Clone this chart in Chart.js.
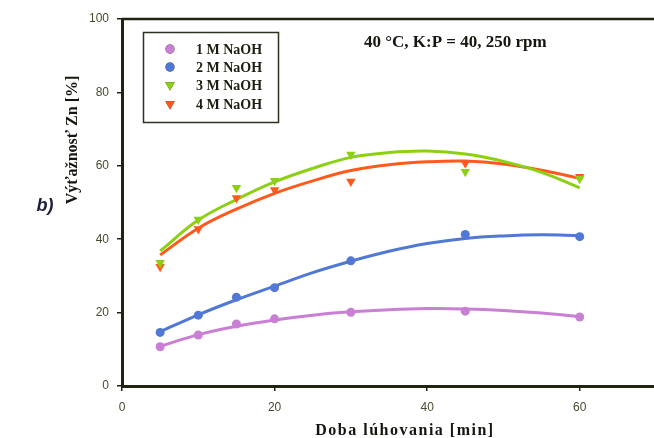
<!DOCTYPE html>
<html>
<head>
<meta charset="utf-8">
<script src="https://cdn.jsdelivr.net/npm/chart.js@4"></script>
<style>
  html, body { margin: 0; padding: 0; background: #fff; overflow: hidden; }
  #wrap { width: 654px; height: 438px; overflow: hidden; }
</style>
</head>
<body>
<div id="wrap"><canvas id="chart" width="662" height="438"></canvas></div>
<script>
// namerané body
const times = [5, 10, 15, 20, 30, 45, 60];
const naoh1 = [10.7, 13.9, 16.9, 18.3, 20.1, 20.4, 18.8];
const naoh2 = [14.6, 19.3, 24.2, 26.8, 34.1, 41.3, 40.7];
const naoh3 = [33.6, 45.4, 54.0, 55.9, 63.1, 58.4, 56.5];
const naoh4 = [32.5, 42.8, 51.2, 53.4, 55.7, 60.7, 57.0];

// trendové krivky odčítané z obrázku
const curveTimes = [5, 10, 15, 20, 25, 30, 35, 40, 45, 50, 55, 60];
const curve1 = [10.8, 14.0, 16.3, 18.0, 19.3, 20.2, 20.8, 21.1, 21.0, 20.6, 19.9, 18.9];
const curve2 = [14.8, 19.4, 23.5, 27.2, 30.9, 34.0, 36.7, 38.8, 40.2, 40.9, 41.2, 41.0];
const curve3 = [36.8, 45.2, 50.8, 55.6, 59.3, 62.3, 63.6, 64.0, 63.2, 61.2, 58.2, 54.0];
const curve4 = [35.7, 43.0, 48.2, 52.5, 55.9, 58.7, 60.3, 61.1, 61.3, 60.5, 58.8, 56.6];

const labels = ['1 M NaOH', '2 M NaOH', '3 M NaOH', '4 M NaOH'];
const colors = ['#c97fd4', '#5078d4', '#8cd014', '#ff5a1e'];
const styles = ['circle', 'circle', 'triangle', 'triangle'];

const axisColor = '#1e2410';
const serif = '"Liberation Serif", "Times New Roman", serif';
const sans = '"Liberation Sans", Arial, sans-serif';

const toXY = (xs, ys) => xs.map((x, i) => ({ x, y: ys[i] }));

const pointSets = [naoh1, naoh2, naoh3, naoh4].map((vals, i) => ({
  label: labels[i],
  data: toXY(times, vals),
  showLine: false,
  pointStyle: styles[i],
  rotation: styles[i] === 'triangle' ? 180 : 0,
  pointRadius: styles[i] === 'triangle' ? 5.5 : 4.5,
  pointBackgroundColor: colors[i],
  pointBorderColor: colors[i],
  pointBorderWidth: 0,
  order: 1
}));

const curveSets = [curve1, curve2, curve3, curve4].map((vals, i) => ({
  label: labels[i] + ' fit',
  data: toXY(curveTimes, vals),
  showLine: true,
  borderColor: colors[i],
  borderWidth: 3,
  pointRadius: 0,
  tension: 0.4,
  fill: false,
  order: 2
}));

// legenda, popisy a rámik
const decor = {
  id: 'decor',
  afterDraw(chart) {
    const ctx = chart.ctx;
    const a = chart.chartArea;
    ctx.save();

    // horná a pravá hrana rámika
    ctx.strokeStyle = axisColor;
    ctx.lineWidth = 2.5;
    ctx.beginPath();
    ctx.moveTo(a.left, a.top);
    ctx.lineTo(a.right, a.top);
    ctx.lineTo(a.right, a.bottom);
    ctx.stroke();

    // legenda
    ctx.lineWidth = 1.5;
    ctx.strokeStyle = '#2a3320';
    ctx.strokeRect(143.5, 32.5, 135, 90);
    const rows = [49, 67, 85, 104];
    ctx.font = 'bold 14px ' + serif;
    ctx.textBaseline = 'middle';
    ctx.textAlign = 'left';
    pointSets.forEach((ds, i) => {
      Chart.helpers.drawPoint(ctx, {
        pointStyle: ds.pointStyle,
        radius: ds.pointRadius,
        rotation: ds.rotation
      }, 170, rows[i]);
      ctx.fillStyle = ds.pointBackgroundColor;
      ctx.fill();
      ctx.fillStyle = '#1c1c10';
      ctx.fillText(ds.label, 196, rows[i] + 1);
    });

    // podmienky pokusu
    ctx.font = 'bold 17px ' + serif;
    ctx.fillStyle = '#161610';
    ctx.fillText('40 °C, K:P = 40, 250 rpm', 364, 43);

    // os x
    ctx.textAlign = 'center';
    ctx.font = 'bold 16px ' + serif;
    ctx.letterSpacing = '1.5px';
    ctx.fillText('Doba lúhovania [min]', 405, 431);
    ctx.letterSpacing = '0px';

    // os y
    ctx.save();
    ctx.translate(73, 140);
    ctx.rotate(-Math.PI / 2);
    ctx.font = 'bold 16px ' + serif;
    ctx.fillText('Výťažnosť Zn [%]', 0, 0);
    ctx.restore();

    ctx.font = 'italic bold 18px ' + sans;
    ctx.fillStyle = '#20203a';
    ctx.fillText('b)', 45, 206);
    ctx.restore();
  }
};

new Chart(document.getElementById('chart'), {
  type: 'scatter',
  data: { datasets: [...curveSets, ...pointSets] },
  options: {
    responsive: false,
    animation: false,
    layout: { padding: { left: 82, top: 19, right: 6, bottom: 0 } },
    plugins: {
      legend: { display: false },
      tooltip: { enabled: false }
    },
    scales: {
      x: {
        type: 'linear',
        min: 0,
        max: 70,
        afterFit(scale) { scale.height = 52; },
        ticks: {
          stepSize: 20,
          includeBounds: false,
          padding: 9,
          color: '#4a4a30',
          font: { family: sans, size: 12 }
        },
        grid: { drawOnChartArea: false, drawTicks: true, tickLength: 5, color: axisColor, lineWidth: 1.5 },
        border: { display: true, color: axisColor, width: 3 }
      },
      y: {
        min: 0,
        max: 100,
        afterFit(scale) { scale.width = 40; },
        ticks: {
          stepSize: 20,
          padding: 8,
          color: '#4a4a30',
          font: { family: sans, size: 12 }
        },
        grid: { drawOnChartArea: false, drawTicks: true, tickLength: 5, color: axisColor, lineWidth: 1.5 },
        border: { display: true, color: axisColor, width: 3 }
      }
    }
  },
  plugins: [decor]
});
</script>
</body>
</html>
